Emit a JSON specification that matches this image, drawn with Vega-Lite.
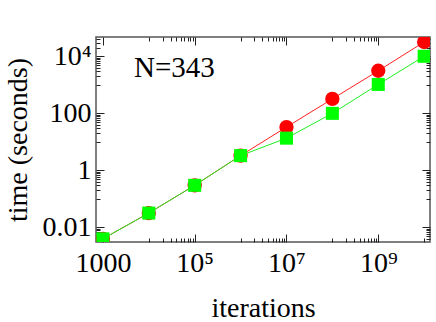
{
  "$schema": "https://vega.github.io/schema/vega-lite/v6.json",
  "width": 334,
  "height": 205,
  "autosize": {"type": "none"},
  "padding": {"left": 96, "top": 37, "right": 6, "bottom": 80},
  "background": "white",
  "config": {
    "view": {"stroke": "#555555", "strokeWidth": 1.5},
    "axis": {"grid": false, "domain": false, "tickColor": "#222222", "tickWidth": 1, "labelFont": "Liberation Serif", "titleFont": "Liberation Serif", "labelColor": "black", "titleColor": "black", "titleFontWeight": "normal"}
  },
  "datasets": {
    "red": [
      {"iterations": 1000, "time": 0.004},
      {"iterations": 10000, "time": 0.032},
      {"iterations": 100000, "time": 0.3},
      {"iterations": 1000000, "time": 3.3},
      {"iterations": 10000000, "time": 33},
      {"iterations": 100000000, "time": 320},
      {"iterations": 1000000000, "time": 3100},
      {"iterations": 10000000000, "time": 31600}
    ],
    "green": [
      {"iterations": 1000, "time": 0.004},
      {"iterations": 10000, "time": 0.032},
      {"iterations": 100000, "time": 0.3},
      {"iterations": 1000000, "time": 3.3},
      {"iterations": 10000000, "time": 13.5},
      {"iterations": 100000000, "time": 100},
      {"iterations": 1000000000, "time": 1030},
      {"iterations": 10000000000, "time": 10000}
    ],
    "note": [
      {"iterations": 4760, "time": 1845, "label": "N=343"}
    ]
  },
  "layer": [
    {
      "data": {"name": "red"},
      "mark": {"type": "line", "color": "#ff2020", "strokeWidth": 1, "clip": true},
      "encoding": {
        "x": {"field": "iterations", "type": "quantitative",
          "scale": {"type": "log", "domain": [708, 13400000000], "nice": false},
          "axis": {"orient": "bottom", "title": "iterations", "titleFontSize": 28, "titlePadding": 17,
            "values": [1000, 100000, 10000000, 1000000000], "ticks": false, "labelFontSize": 28, "labelPadding": 7,
            "labelExpr": "datum.value < 5000 ? '1000' : datum.value < 5000000 ? '10⁵' : datum.value < 500000000 ? '10⁷' : '10⁹'"}},
        "y": {"field": "time", "type": "quantitative",
          "scale": {"type": "log", "domain": [0.0031, 47300], "nice": false},
          "axis": {"orient": "left", "title": "time (seconds)", "titleFontSize": 28, "titlePadding": 10,
            "values": [0.01, 1, 100, 10000], "ticks": false, "labelFontSize": 28, "labelPadding": 5,
            "labelExpr": "datum.value < 0.1 ? '0.01' : datum.value < 10 ? '1' : datum.value < 1000 ? '100' : '10⁴'"}}
      }
    },
    {
      "data": {"name": "green"},
      "mark": {"type": "line", "color": "#20ee20", "strokeWidth": 1, "clip": true},
      "encoding": {
        "x": {"field": "iterations", "type": "quantitative",
          "axis": {"orient": "bottom", "title": null, "labels": false, "tickSize": -8, "values": [1000, 100000, 10000000, 1000000000]}},
        "y": {"field": "time", "type": "quantitative",
          "axis": {"orient": "left", "title": null, "labels": false, "tickSize": -8, "values": [0.01, 1, 100, 10000]}}
      }
    },
    {
      "data": {"name": "red"},
      "mark": {"type": "circle", "color": "#ff0000", "opacity": 1, "size": 205, "clip": true},
      "encoding": {
        "x": {"field": "iterations", "type": "quantitative",
          "axis": {"orient": "top", "title": null, "labels": false, "tickSize": -8, "values": [1000, 100000, 10000000, 1000000000]}},
        "y": {"field": "time", "type": "quantitative",
          "axis": {"orient": "right", "title": null, "labels": false, "tickSize": -8, "values": [0.01, 1, 100, 10000]}}
      }
    },
    {
      "data": {"name": "green"},
      "mark": {"type": "square", "color": "#00ff00", "opacity": 1, "size": 170, "clip": true},
      "encoding": {
        "x": {"field": "iterations", "type": "quantitative",
          "axis": {"orient": "bottom", "title": null, "labels": false, "tickSize": -4,
            "values": [10000, 20000, 30000, 40000, 50000, 60000, 70000, 80000, 90000, 1000000, 2000000, 3000000, 4000000, 5000000, 6000000, 7000000, 8000000, 9000000, 100000000, 200000000, 300000000, 400000000, 500000000, 600000000, 700000000, 800000000, 900000000, 10000000000]}},
        "y": {"field": "time", "type": "quantitative",
          "axis": {"orient": "left", "title": null, "labels": false, "tickSize": -4,
            "values": [0.004, 0.005, 0.006, 0.007, 0.008, 0.009, 0.1, 0.2, 0.3, 0.4, 0.5, 0.6, 0.7, 0.8, 0.9, 10, 20, 30, 40, 50, 60, 70, 80, 90, 1000, 2000, 3000, 4000, 5000, 6000, 7000, 8000, 9000, 20000, 30000, 40000]}}
      }
    },
    {
      "data": {"name": "note"},
      "mark": {"type": "text", "font": "Liberation Serif", "fontSize": 29, "align": "left", "baseline": "alphabetic", "color": "black"},
      "encoding": {
        "x": {"field": "iterations", "type": "quantitative",
          "axis": {"orient": "top", "title": null, "labels": false, "tickSize": -4,
            "values": [10000, 20000, 30000, 40000, 50000, 60000, 70000, 80000, 90000, 1000000, 2000000, 3000000, 4000000, 5000000, 6000000, 7000000, 8000000, 9000000, 100000000, 200000000, 300000000, 400000000, 500000000, 600000000, 700000000, 800000000, 900000000, 10000000000]}},
        "y": {"field": "time", "type": "quantitative",
          "axis": {"orient": "right", "title": null, "labels": false, "tickSize": -4,
            "values": [0.004, 0.005, 0.006, 0.007, 0.008, 0.009, 0.1, 0.2, 0.3, 0.4, 0.5, 0.6, 0.7, 0.8, 0.9, 10, 20, 30, 40, 50, 60, 70, 80, 90, 1000, 2000, 3000, 4000, 5000, 6000, 7000, 8000, 9000, 20000, 30000, 40000]}},
        "text": {"field": "label"}
      }
    }
  ],
  "resolve": {"axis": {"x": "independent", "y": "independent"}}
}
